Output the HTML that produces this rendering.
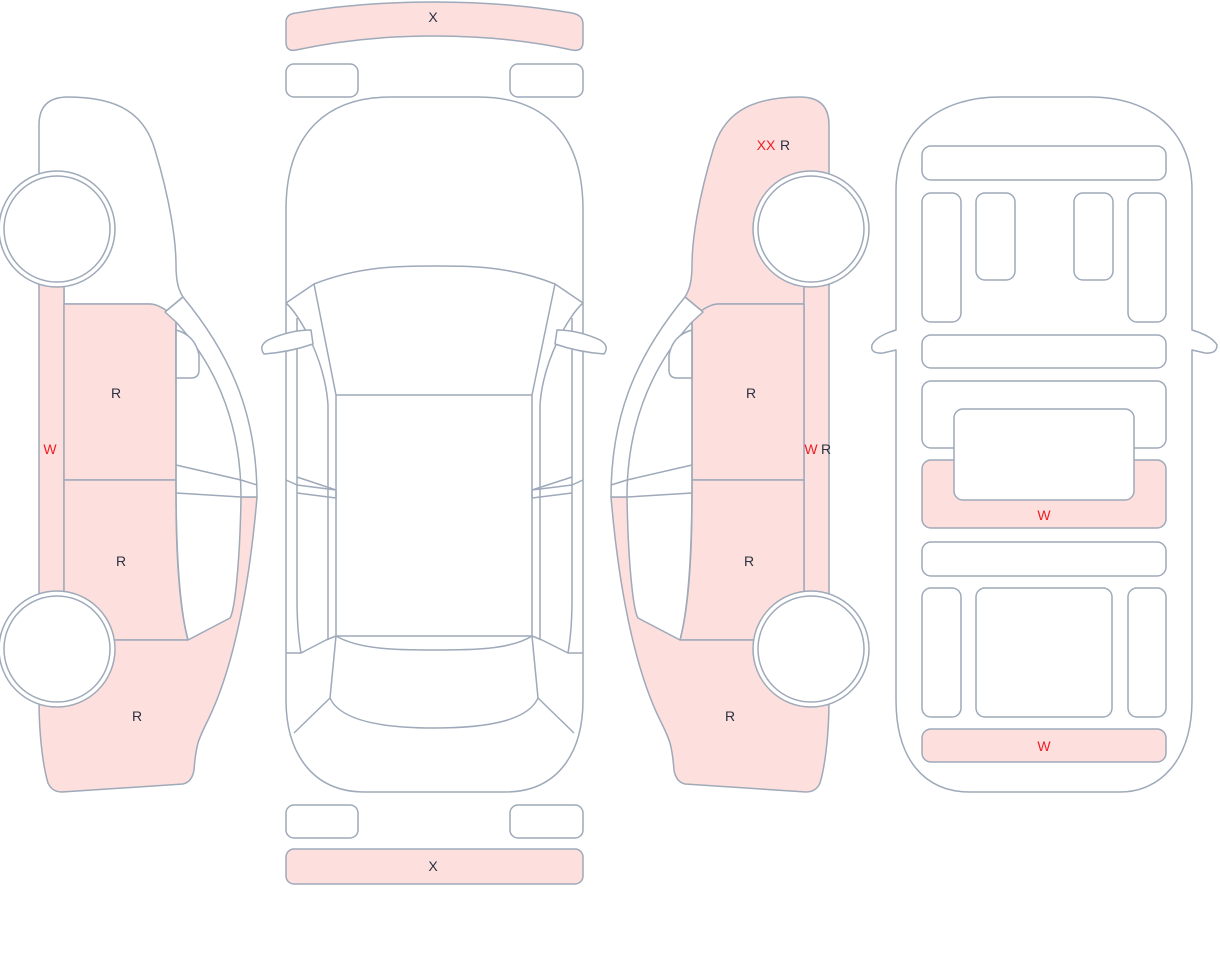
<!DOCTYPE html>
<html><head><meta charset="utf-8"><style>
html,body{margin:0;padding:0;background:#fff;width:1220px;height:967px;overflow:hidden}
svg{display:block}
text{font-family:"Liberation Sans",sans-serif;font-size:14px;text-anchor:middle;dominant-baseline:central}
.k{fill:#2a3140}.r{fill:#ee1c25}
</style></head><body>
<svg width="1220" height="967" viewBox="0 0 1220 967" xmlns="http://www.w3.org/2000/svg">
<defs>
<g id="side" stroke="#9ea9b9" stroke-width="1.5" stroke-linejoin="round">
  <!-- W strip -->
  <rect x="39" y="280" width="25" height="320" fill="#fde0dd"/>
  <!-- upper R -->
  <path d="M64,304 L150,304 Q160,304 176,318 L176,480 L64,480Z" fill="#fde0dd"/>
  <!-- lower R -->
  <path d="M64,480 L176,480 C176,560 180,610 188,640 L64,640Z" fill="#fde0dd"/>
  <!-- bottom R -->
  <path d="M39,600 L39,700 C39,740 44,770 48,783 Q52,792 62,792 L183,784 Q192,782 194,770 C196,745 198,740 208,720 C235,665 250,580 257,497 L241,497 C240,560 235,610 230,618 L188,640 L64,640 L39,640Z" fill="#fde0dd"/>
  <!-- pillar / windows -->
  <path d="M183,297 C235,360 257,420 257,497 L241,497 C241,430 220,370 176,322 L165,312Z" fill="#fff"/>
  <path d="M176,465 L241,480 L257,485 M176,493 L241,497" fill="none"/>
  <path d="M176,330 Q195,335 199,355 L199,370 Q199,378 191,378 L176,378Z" fill="#fff"/>
  <path d="M176,322 L176,495 C176,560 180,610 188,640" fill="none"/>
</g>
</defs>

<!-- LEFT CAR -->
<path d="M39,285 L39,125 Q39,97 68,97 C120,97 145,115 155,150 C170,200 176,240 176,265 C176,285 180,292 183,297 L165,312 Q158,304 150,304 L64,304 L64,285Z" fill="#fff" stroke="#9ea9b9" stroke-width="1.5"/>
<use href="#side"/>
<g fill="#fff" stroke="#9ea9b9" stroke-width="1.5">
<circle cx="57" cy="229" r="58"/><circle cx="57" cy="229" r="53"/>
<circle cx="57" cy="649" r="58"/><circle cx="57" cy="649" r="53"/>
</g>

<!-- RIGHT CAR (mirror) -->
<g transform="translate(868,0) scale(-1,1)">
<path d="M39,285 L39,125 Q39,97 68,97 C120,97 145,115 155,150 C170,200 176,240 176,265 C176,285 180,292 183,297 L165,312 Q158,304 150,304 L64,304 L64,285Z" fill="#fde0dd" stroke="#9ea9b9" stroke-width="1.5"/>
<use href="#side"/>
<g fill="#fff" stroke="#9ea9b9" stroke-width="1.5">
<circle cx="57" cy="229" r="58"/><circle cx="57" cy="229" r="53"/>
<circle cx="57" cy="649" r="58"/><circle cx="57" cy="649" r="53"/>
</g>
</g>

<!-- CENTER CAR -->
<g stroke="#9ea9b9" stroke-width="1.5" fill="none" stroke-linejoin="round">
<path d="M286,22 Q286,14 296,13 Q360,2 434,2 Q508,2 572,13 Q583,15 583,24 L583,42 Q583,52 572,50 Q508,36 434,36 Q360,36 296,50 Q286,52 286,42Z" fill="#fde0dd"/>
<rect x="286" y="64" width="72" height="33" rx="8" fill="#fff"/>
<rect x="510" y="64" width="73" height="33" rx="8" fill="#fff"/>
<path d="M286,653 L286,210 C286,130 330,97 390,97 L478,97 C540,97 583,130 583,210 L583,700 C583,750 560,792 505,792 L365,792 C310,792 286,750 286,700Z" fill="#fff"/>
<path d="M286,303 L314,284 C360,266 400,266 434,266 C470,266 510,266 555,284 L583,303"/>
<path d="M314,284 L336,395 M555,284 L532,395"/>
<path d="M286,303 C300,315 325,360 328,405 L328,640 M583,303 C569,315 543,360 540,405 L540,640"/>
<rect x="336" y="395" width="196" height="241" fill="#fff"/>
<path d="M336,636 C360,650 400,650 434,650 C470,650 510,650 532,636"/>
<path d="M336,636 L330,698 C340,720 380,728 434,728 C490,728 528,720 538,698 L532,636"/>
<path d="M330,698 L294,733 M538,698 L574,733"/>
<path d="M297,318 L297,600 Q297,630 301,653 L286,653 M301,653 L326,640 L336,636"/>
<path d="M572,318 L572,600 Q572,630 568,653 L583,653 M568,653 L542,640 L532,636"/>
<path d="M286,480 L297,485 L336,490 L336,498 L297,493 M297,477 L336,490"/>
<path d="M583,480 L572,485 L532,490 L532,498 L572,493 M572,477 L532,490"/>
<path d="M311,330 Q290,330 268,340 Q258,346 264,354 Q290,352 313,344Z" fill="#fff"/>
<path d="M557,330 Q578,330 600,340 Q610,346 604,354 Q578,352 555,344Z" fill="#fff"/>
<rect x="286" y="805" width="72" height="33" rx="8" fill="#fff"/>
<rect x="510" y="805" width="73" height="33" rx="8" fill="#fff"/>
<rect x="286" y="849" width="297" height="35" rx="8" fill="#fde0dd"/>
</g>

<!-- INTERIOR VIEW -->
<g stroke="#9ea9b9" stroke-width="1.5" fill="#fff" stroke-linejoin="round">
<path d="M896,330 L896,190 C896,130 940,97 1000,97 L1090,97 C1150,97 1192,130 1192,190 L1192,330 Q1212,336 1217,345 Q1217,354 1205,353 L1192,350 L1192,700 C1192,760 1160,792 1120,792 L970,792 C925,792 896,760 896,700 L896,350 L883,353 Q870,354 872,345 Q876,336 896,330Z"/>
<rect x="922" y="146" width="244" height="34" rx="9"/>
<rect x="922" y="193" width="39" height="129" rx="9"/>
<rect x="976" y="193" width="39" height="87" rx="9"/>
<rect x="1074" y="193" width="39" height="87" rx="9"/>
<rect x="1128" y="193" width="38" height="129" rx="9"/>
<rect x="922" y="335" width="244" height="33" rx="9"/>
<rect x="922" y="381" width="244" height="67" rx="9"/>
<rect x="922" y="460" width="244" height="68" rx="9" fill="#fde0dd"/>
<rect x="954" y="409" width="180" height="91" rx="9"/>
<rect x="922" y="542" width="244" height="34" rx="9"/>
<rect x="922" y="588" width="39" height="129" rx="9"/>
<rect x="976" y="588" width="136" height="129" rx="9"/>
<rect x="1128" y="588" width="38" height="129" rx="9"/>
<rect x="922" y="729" width="244" height="33" rx="9" fill="#fde0dd"/>
</g>

<!-- LABELS -->
<text x="433" y="17" class="k">X</text>
<text x="433" y="866" class="k">X</text>
<text x="116" y="393" class="k">R</text>
<text x="121" y="561" class="k">R</text>
<text x="137" y="716" class="k">R</text>
<text x="50" y="449" class="r">W</text>
<text x="766" y="145" class="r">XX</text>
<text x="785" y="145" class="k">R</text>
<text x="751" y="393" class="k">R</text>
<text x="749" y="561" class="k">R</text>
<text x="730" y="716" class="k">R</text>
<text x="811" y="449" class="r">W</text>
<text x="826" y="449" class="k">R</text>
<text x="1044" y="515" class="r">W</text>
<text x="1044" y="746" class="r">W</text>
</svg>
</body></html>
